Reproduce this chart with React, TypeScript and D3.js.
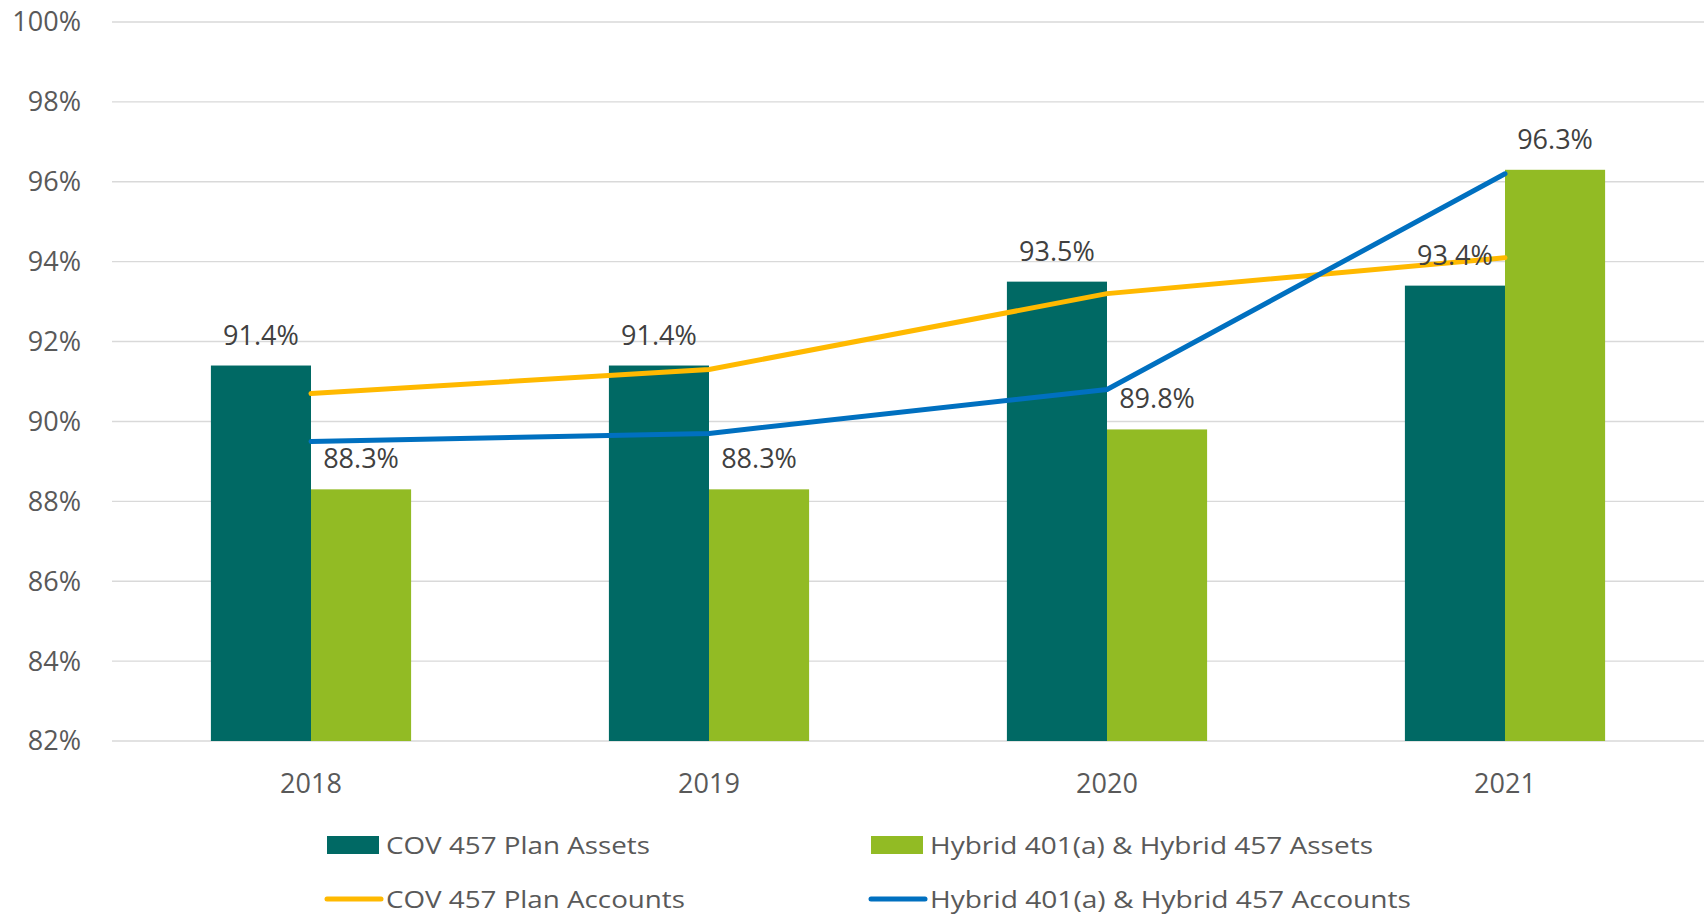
import React from "react";
import * as d3 from "d3";

const categories = ["2018", "2019", "2020", "2021"];
const covAssets = [91.4, 91.4, 93.5, 93.4];
const hybridAssets = [88.3, 88.3, 89.8, 96.3];
const covAccounts = [90.7, 91.3, 93.2, 94.1];
const hybridAccounts = [89.5, 89.7, 90.8, 96.2];
const yTicks = [82, 84, 86, 88, 90, 92, 94, 96, 98, 100];
const barSeries = ["COV 457 Plan Assets", "Hybrid 401(a) & Hybrid 457 Assets"];
const lineSeries = ["COV 457 Plan Accounts", "Hybrid 401(a) & Hybrid 457 Accounts"];

const W = 1707;
const H = 914;
const plotLeft = 112;
const plotRight = 1704;
const plotTop = 22;
const plotBottom = 741;

const barColors = ["#006964", "#92BB24"];
const lineColors = ["#FFB900", "#0070C0"];
const font = "'Open Sans', 'DejaVu Sans', sans-serif";

export default function App() {
  const x = d3.scaleBand<string>().domain(categories).range([plotLeft, plotRight]).padding(0);
  const y = d3.scaleLinear().domain([82, 100]).range([plotBottom, plotTop]);
  const groupW = x.bandwidth() * 0.503;
  const inner = d3.scaleBand<string>().domain(barSeries).range([-groupW / 2, groupW / 2]).padding(0);
  const cx = (c: string) => (x(c) as number) + x.bandwidth() / 2;

  const barData = [covAssets, hybridAssets];
  const lineData = [covAccounts, hybridAccounts];
  const lineGen = d3
    .line<[string, number]>()
    .x((d) => cx(d[0]))
    .y((d) => y(d[1]));

  const legendRows = [
    { label: barSeries[0], kind: "bar", color: barColors[0], x: 327, y: 845, tl: 264 },
    { label: barSeries[1], kind: "bar", color: barColors[1], x: 871, y: 845, tl: 443 },
    { label: lineSeries[0], kind: "line", color: lineColors[0], x: 327, y: 899, tl: 299 },
    { label: lineSeries[1], kind: "line", color: lineColors[1], x: 871, y: 899, tl: 481 },
  ];

  return (
    <svg
      width={W}
      height={H}
      style={{ position: "absolute", left: 0, top: 0, display: "block", background: "#fff" }}
    >
      {yTicks.map((t) => (
        <g key={t}>
          <line x1={plotLeft} x2={plotRight} y1={y(t)} y2={y(t)} stroke="#D9D9D9" strokeWidth={1.4} />
          <text
            x={81}
            y={y(t)}
            dy="0.35em"
            textAnchor="end"
            fontFamily={font}
            fontSize={27}
            fill="#595959"
          >
            {t}%
          </text>
        </g>
      ))}

      {barData.map((vals, si) =>
        categories.map((c, i) => {
          const bx = cx(c) + (inner(barSeries[si]) as number);
          return (
            <rect
              key={`${si}-${c}`}
              x={bx}
              y={y(vals[i])}
              width={inner.bandwidth()}
              height={y(82) - y(vals[i])}
              fill={barColors[si]}
            />
          );
        })
      )}

      {lineData.map((vals, si) => (
        <path
          key={si}
          d={lineGen(categories.map((c, i) => [c, vals[i]] as [string, number])) || ""}
          fill="none"
          stroke={lineColors[si]}
          strokeWidth={5}
          strokeLinecap="round"
          strokeLinejoin="round"
        />
      ))}

      {barData.map((vals, si) =>
        categories.map((c, i) => {
          const bx = cx(c) + (inner(barSeries[si]) as number) + inner.bandwidth() / 2;
          return (
            <text
              key={`l-${si}-${c}`}
              x={bx}
              y={y(vals[i]) - 21}
              textAnchor="middle"
              fontFamily={font}
              fontSize={27}
              fill="#404040"
            >
              {vals[i].toFixed(1)}%
            </text>
          );
        })
      )}

      {categories.map((c) => (
        <text
          key={c}
          x={cx(c)}
          y={plotBottom + 52}
          textAnchor="middle"
          fontFamily={font}
          fontSize={27}
          fill="#595959"
        >
          {c}
        </text>
      ))}

      {legendRows.map((r) => (
        <g key={r.label}>
          {r.kind === "bar" ? (
            <rect x={r.x} y={r.y - 9} width={52} height={18} fill={r.color} />
          ) : (
            <line
              x1={r.x}
              x2={r.x + 54}
              y1={r.y}
              y2={r.y}
              stroke={r.color}
              strokeWidth={5}
              strokeLinecap="round"
            />
          )}
          <text
            x={r.x + 59}
            y={r.y + 9}
            fontFamily={font}
            fontSize={24}
            fill="#595959"
            textLength={r.tl}
            lengthAdjust="spacingAndGlyphs"
          >
            {r.label}
          </text>
        </g>
      ))}
    </svg>
  );
}
